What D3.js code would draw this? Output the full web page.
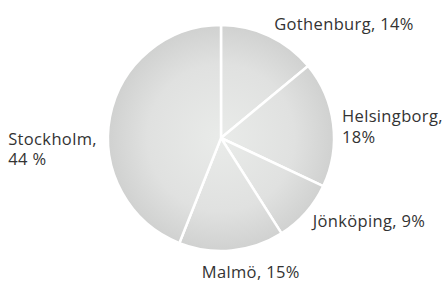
<!DOCTYPE html>
<html>
<head>
<meta charset="utf-8">
<script src="https://cdn.jsdelivr.net/npm/d3@7"></script>
<style>
  html, body { margin: 0; padding: 0; background: #fff; }
  svg { display: block; }
  text { font-family: "Open Sans", sans-serif; font-size: 16.5px; letter-spacing: 0.35px; fill: #333; }
</style>
</head>
<body>
<svg id="chart" width="448" height="282"></svg>
<script>
// Data
const categories = ["Gothenburg", "Helsingborg", "Jönköping", "Malmö", "Stockholm"];
const values = [14, 18, 9, 15, 44];
const labelLines = [
  ["Gothenburg, 14%"],
  ["Helsingborg,", "18%"],
  ["Jönköping, 9%"],
  ["Malmö, 15%"],
  ["Stockholm,", "44 %"]
];

// Layout (not data)
const cx = 221, cy = 138, R = 113, labelR = 125;
const labelLayout = {
  "Gothenburg": { dx: 0, dy: 5 },
  "Helsingborg": { dx: -3, dy: 0 },
  "Jönköping": { dx: -2, dy: 6 },
  "Malmö": { dx: -31, dy: 16 },
  "Stockholm": { dx: -90, dy: 30 }
};
const lineHeight = 20.5;

const svg = d3.select("#chart");
const defs = svg.append("defs");
const grad = defs.append("radialGradient")
  .attr("id", "sliceGrad")
  .attr("gradientUnits", "userSpaceOnUse")
  .attr("cx", 0).attr("cy", 0).attr("r", R);
grad.append("stop").attr("offset", "0%").attr("stop-color", "#e9ebe9");
grad.append("stop").attr("offset", "65%").attr("stop-color", "#e0e1e0");
grad.append("stop").attr("offset", "100%").attr("stop-color", "#d0d1d0");

const data = categories.map((c, i) => ({ name: c, value: values[i], lines: labelLines[i] }));

const pie = d3.pie().value(d => d.value).sort(null);
const arc = d3.arc().innerRadius(0).outerRadius(R);
const labelArc = d3.arc().innerRadius(labelR).outerRadius(labelR);
const arcs = pie(data);

svg.append("g")
  .attr("transform", `translate(${cx},${cy})`)
  .selectAll("path.slice")
  .data(arcs)
  .join("path")
  .attr("class", "slice")
  .attr("d", arc)
  .attr("fill", "url(#sliceGrad)")
  .attr("stroke", "#fff")
  .attr("stroke-width", 2.5)
  .attr("stroke-linejoin", "round");

// labels
const lg = svg.append("g");
arcs.forEach(a => {
  const [px, py] = labelArc.centroid(a);
  const L = labelLayout[a.data.name];
  const x = cx + px + L.dx;
  const t = lg.append("text")
    .attr("x", x)
    .attr("y", cy + py + L.dy)
    .attr("text-anchor", "start");
  a.data.lines.forEach((ln, i) => {
    t.append("tspan")
      .attr("x", x)
      .attr("dy", i === 0 ? 0 : lineHeight)
      .text(ln);
  });
});
</script>
</body>
</html>
